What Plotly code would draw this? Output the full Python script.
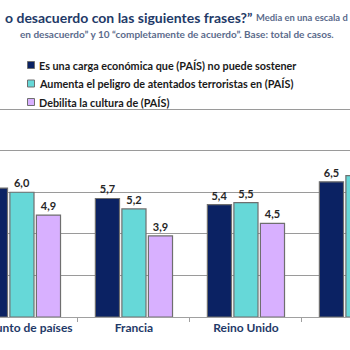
import plotly.graph_objects as go

categories = ["Conjunto de países", "Francia", "Reino Unido", "Alemania"]
series_names = [
    "Es una carga económica que (PAÍS) no puede sostener",
    "Aumenta el peligro de atentados terroristas en (PAÍS)",
    "Debilita la cultura de (PAÍS)",
]
carga = [6.2, 5.7, 5.4, 6.5]
peligro = [6.0, 5.2, 5.5, 6.8]
cultura = [4.9, 3.9, 4.5, 5.4]
colors = ["#0b2263", "#66d8d8", "#d8b0ff"]

W = H = 350
MT, MB = 107, 33
plot_h = H - MT - MB


def px(x):
    return x / W


def py(y):
    return (H - MB - y) / plot_h


FONT = "Lato"
fig = go.Figure()
for name, vals, c in zip(series_names, [carga, peligro, cultura], colors):
    fig.add_bar(
        x=categories, y=vals, name=name,
        marker=dict(color=c, line=dict(color="#6f6f6f", width=1.2)),
        texttemplate="%{y:.1f}", textposition="outside", constraintext="none",
        textfont=dict(family=FONT, size=11, color="#262626", weight="bold"),
        cliponaxis=False, showlegend=False,
    )

# legend (manual)
leg_y = [65, 83.5, 102]
for name, c, yy in zip(series_names, colors, leg_y):
    fig.add_shape(type="rect", xref="paper", yref="paper",
                  x0=px(27.5), x1=px(34.5), y0=py(yy - 3.5), y1=py(yy + 3.5),
                  fillcolor=c, line=dict(color="#6f6f6f", width=1))
    fig.add_annotation(xref="paper", yref="paper", x=px(36.5), y=py(yy),
                       xanchor="left", yanchor="middle", showarrow=False,
                       text="<b>" + name + "</b>",
                       font=dict(family=FONT, size=10.8, color="#1a1a1a"))

fig.add_annotation(
    xref="paper", yref="paper", x=px(3), y=py(17), xanchor="left", yanchor="middle",
    showarrow=False,
    text="<b>o desacuerdo con las siguientes frases?”</b>",
    font=dict(family=FONT, size=14, color="#1f3a68"))
fig.add_annotation(
    xref="paper", yref="paper", x=px(254), y=py(17.5), xanchor="left", yanchor="middle",
    showarrow=False,
    text="<b>Media en una escala d</b>",
    font=dict(family=FONT, size=9.4, color="#5b6b8c"))
fig.add_annotation(
    xref="paper", yref="paper", x=px(176.5), y=py(34), xanchor="center", yanchor="middle",
    showarrow=False,
    text="<b>en desacuerdo” y 10 “completamente de acuerdo”. Base: total de casos.</b>",
    font=dict(family=FONT, size=10, color="#5b6b8c"))

fig.update_layout(
    width=W, height=H, margin=dict(l=0, r=0, t=MT, b=MB, pad=0, autoexpand=False),
    barmode="group", bargap=0.29, bargroupgap=0.09, separators=",.",
    plot_bgcolor="white", paper_bgcolor="white", showlegend=False,
    xaxis=dict(type="category", range=[-0.196, 2.929], showline=True, automargin=False,
               linecolor="#a0a0a0", linewidth=1, ticks="outside", tickson="boundaries",
               ticklen=4, tickcolor="#a0a0a0", showgrid=False,
               tickfont=dict(family=FONT, size=12, color="#1f3a68", weight="bold")),
    yaxis=dict(range=[0, 10.1], showgrid=True, gridcolor="#9a9a9a", gridwidth=1.3,
               automargin=False, dtick=2, tick0=0, showticklabels=False, zeroline=False),
)

fig.write_html("out.html")
